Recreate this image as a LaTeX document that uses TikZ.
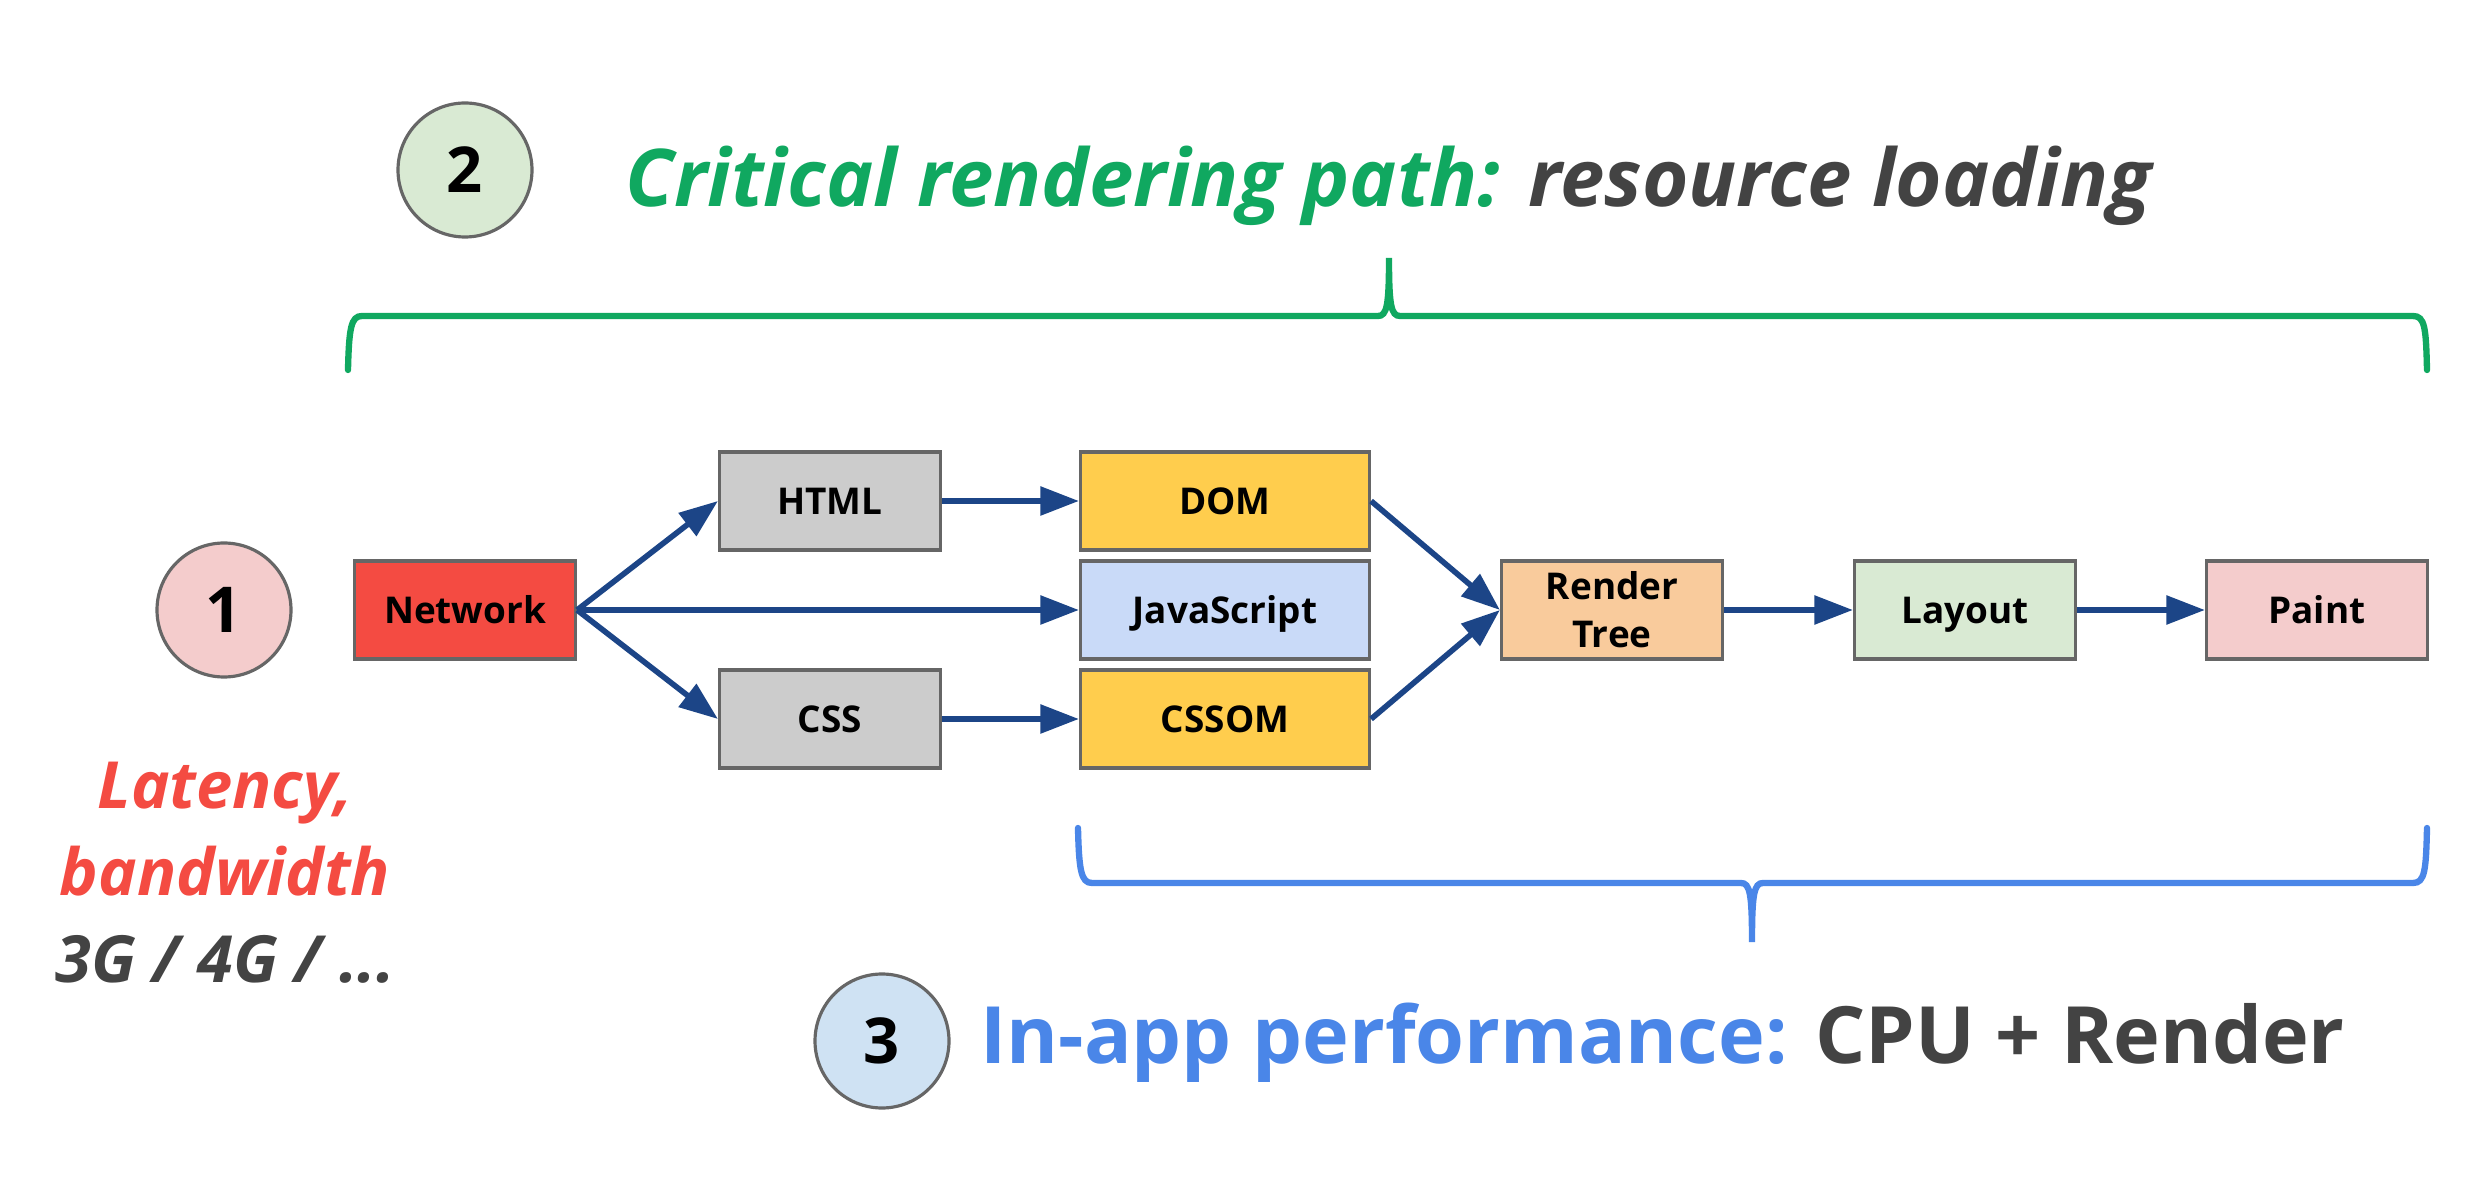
\documentclass[tikz,border=0pt]{standalone}
\usepackage{fontspec}
\setmainfont{Open Sans}
\usetikzlibrary{arrows.meta, positioning, calc}
\definecolor{netred}{RGB}{244,75,66}
\definecolor{boxgray}{RGB}{204,204,204}
\definecolor{domyellow}{RGB}{255,205,77}
\definecolor{jsblue}{RGB}{201,218,248}
\definecolor{treeorange}{RGB}{249,203,156}
\definecolor{layoutgreen}{RGB}{217,234,211}
\definecolor{paintpink}{RGB}{244,204,204}
\definecolor{numblue}{RGB}{207,226,243}
\definecolor{edgegray}{RGB}{102,102,102}
\definecolor{arrowblue}{RGB}{28,69,135}
\definecolor{crpgreen}{RGB}{16,168,96}
\definecolor{perfblue}{RGB}{74,134,232}
\definecolor{textgray}{RGB}{67,67,67}

\begin{document}
\begin{tikzpicture}[
  box/.style={draw=edgegray, line width=0.9pt, minimum width=2.21cm, minimum height=0.98cm, inner sep=0pt, align=center, text height=9pt, text depth=1.5pt, font=\bfseries\fontsize{10.5}{13.6}\selectfont},
  widebox/.style={box, minimum width=2.89cm},
  num/.style={circle, draw=edgegray, line width=0.9pt, minimum size=1.34cm, inner sep=0pt, font=\bfseries\fontsize{18}{20}\selectfont},
  flow/.style={draw=arrowblue, line width=1.6pt, -{Triangle[length=11pt, width=8pt]}},
  brace/.style={line width=1.8pt, line cap=round}
]
  \useasboundingbox (0,0) rectangle (24.84,12);

  % pipeline boxes
  \node[box, fill=netred] (net) at (4.65,5.90) {Network};
  \node[box, fill=boxgray] (html) at (8.30,6.99) {HTML};
  \node[box, fill=boxgray] (css) at (8.30,4.81) {CSS};
  \node[widebox, fill=domyellow] (dom) at (12.25,6.99) {DOM};
  \node[widebox, fill=jsblue] (js) at (12.25,5.90) {JavaScript};
  \node[widebox, fill=domyellow] (cssom) at (12.25,4.81) {CSSOM};
  \node[box, fill=treeorange, text height=, text depth=] (rtree) at (16.12,5.90) {Render\\Tree};
  \node[box, fill=layoutgreen] (layout) at (19.65,5.90) {Layout};
  \node[box, fill=paintpink] (paint) at (23.17,5.90) {Paint};

  \draw[flow] (net.east) -- (html.west);
  \draw[flow] (net.east) -- (js.west);
  \draw[flow] (net.east) -- (css.west);
  \draw[flow] (html) -- (dom);
  \draw[flow] (css) -- (cssom);
  \draw[flow] (dom.east) -- (rtree.west);
  \draw[flow] (cssom.east) -- (rtree.west);
  \draw[flow] (rtree) -- (layout);
  \draw[flow] (layout) -- (paint);

  % numbered stages
  \node[num, fill=paintpink] (one) at (2.24,5.90) {1};
  \node[num, fill=layoutgreen] (two) at (4.65,10.30) {2};
  \node[num, fill=numblue] (three) at (8.82,1.59) {3};

  \node[anchor=base west, font=\bfseries\itshape\fontsize{22.65}{27}\selectfont] (crp) at (6.13,9.93)
    {\textcolor{crpgreen}{Critical rendering path:} \textcolor{textgray}{resource loading}};
  \node[anchor=base west, font=\bfseries\fontsize{22.5}{27}\selectfont] (perf) at (9.68,1.36)
    {\textcolor{perfblue}{In-app performance:} \textcolor{textgray}{CPU + Render}};
  \node[align=center, font=\bfseries\itshape\fontsize{18.5}{24.7}\selectfont] (lat) at (2.25,3.27)
    {\textcolor{netred}{Latency,}\\\textcolor{netred}{bandwidth}\\\textcolor{textgray}{3G / 4G / ...}};

  % braces
  \draw[brace, crpgreen] (3.48,8.30) .. controls (3.49,8.72) and (3.51,8.84) .. (3.62,8.84)
    -- (13.78,8.84) .. controls (13.87,8.84) and (13.89,8.95) .. (13.89,9.42)
    .. controls (13.89,8.95) and (13.91,8.84) .. (14.00,8.84)
    -- (24.13,8.84) .. controls (24.25,8.84) and (24.26,8.72) .. (24.27,8.30);
  \draw[brace, perfblue] (10.78,3.72) .. controls (10.79,3.30) and (10.81,3.17) .. (10.92,3.17)
    -- (17.41,3.17) .. controls (17.50,3.17) and (17.52,3.06) .. (17.52,2.58)
    .. controls (17.52,3.06) and (17.54,3.17) .. (17.63,3.17)
    -- (24.13,3.17) .. controls (24.25,3.17) and (24.26,3.30) .. (24.27,3.72);
\end{tikzpicture}
\end{document}
